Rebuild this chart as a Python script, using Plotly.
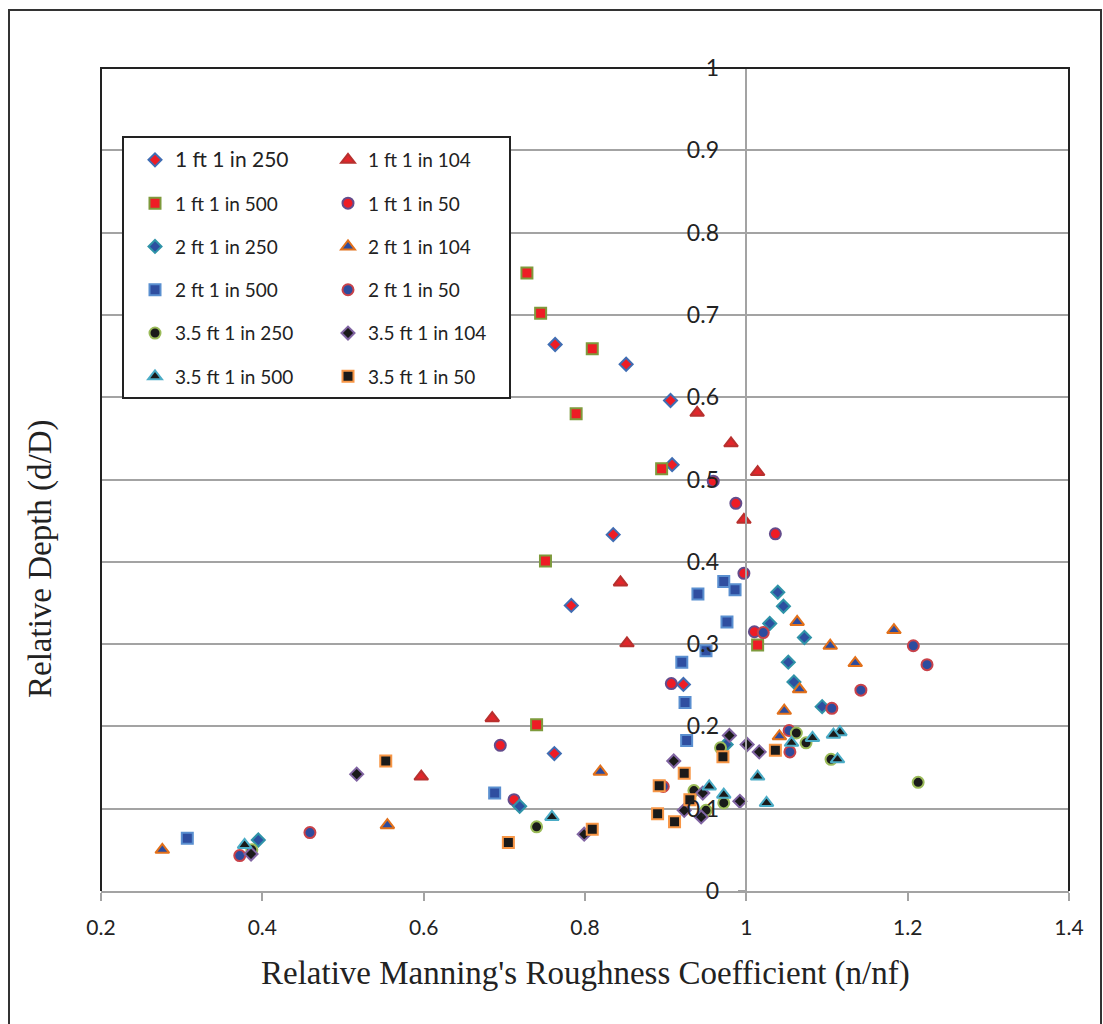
import plotly.graph_objects as go

# Relative Manning's roughness (n/nf) and relative depth (d/D) for each pipe / slope run
ft1_250_n = [0.763, 0.851, 0.906, 0.908, 0.835, 0.783, 0.922, 0.762]
ft1_250_d = [0.664, 0.640, 0.596, 0.518, 0.433, 0.347, 0.251, 0.167]

ft1_104_n = [0.939, 0.981, 1.014, 0.997, 0.844, 0.852, 0.685, 0.597]
ft1_104_d = [0.581, 0.544, 0.509, 0.451, 0.375, 0.301, 0.210, 0.139]

ft1_500_n = [0.728, 0.745, 0.809, 0.789, 0.895, 0.751, 1.014, 0.740]
ft1_500_d = [0.751, 0.702, 0.659, 0.580, 0.513, 0.401, 0.299, 0.202]

ft1_50_n = [0.959, 0.987, 1.036, 0.997, 1.010, 0.907, 0.695, 0.712]
ft1_50_d = [0.498, 0.471, 0.434, 0.386, 0.315, 0.252, 0.177, 0.111]

ft2_250_n = [1.039, 1.046, 1.029, 1.072, 1.052, 1.059, 1.094, 0.975, 0.719, 0.395]
ft2_250_d = [0.363, 0.346, 0.325, 0.308, 0.278, 0.254, 0.224, 0.178, 0.103, 0.062]

ft2_104_n = [1.063, 1.183, 1.104, 1.135, 1.066, 1.047, 1.041, 0.819, 0.555, 0.276]
ft2_104_d = [0.327, 0.317, 0.298, 0.277, 0.245, 0.219, 0.188, 0.145, 0.080, 0.050]

ft2_500_n = [0.972, 0.986, 0.940, 0.976, 0.950, 0.920, 0.924, 0.926, 0.688, 0.307]
ft2_500_d = [0.376, 0.366, 0.361, 0.327, 0.292, 0.278, 0.229, 0.183, 0.119, 0.064]

ft2_50_n = [1.021, 1.207, 1.224, 1.142, 1.106, 1.053, 1.054, 0.897, 0.459, 0.372]
ft2_50_d = [0.314, 0.298, 0.275, 0.244, 0.222, 0.195, 0.169, 0.127, 0.071, 0.043]

ft35_250_n = [1.062, 1.074, 1.105, 1.213, 0.968, 0.935, 0.972, 0.950, 0.740, 0.387]
ft35_250_d = [0.192, 0.180, 0.160, 0.132, 0.174, 0.122, 0.107, 0.098, 0.078, 0.050]

ft35_104_n = [0.979, 1.001, 1.016, 0.910, 0.946, 0.992, 0.923, 0.944, 0.799, 0.517, 0.386]
ft35_104_d = [0.189, 0.178, 0.169, 0.158, 0.119, 0.109, 0.098, 0.090, 0.069, 0.142, 0.045]

ft35_500_n = [1.116, 1.108, 1.082, 1.056, 1.113, 1.014, 1.025, 0.954, 0.972, 0.759, 0.378]
ft35_500_d = [0.193, 0.190, 0.186, 0.180, 0.160, 0.139, 0.107, 0.127, 0.117, 0.090, 0.056]

ft35_50_n = [1.036, 0.971, 0.923, 0.892, 0.930, 0.890, 0.911, 0.809, 0.553, 0.705]
ft35_50_d = [0.171, 0.163, 0.143, 0.128, 0.111, 0.094, 0.084, 0.075, 0.158, 0.059]

# name, x, y, symbol, fill, edge, size, legend column
series = [
    ("1 ft 1 in 250", ft1_250_n, ft1_250_d, "diamond", "#EE1C25", "#3F6DB3", 10, "legend"),
    ("1 ft 1 in 104", ft1_104_n, ft1_104_d, "triangle-up", "#E1262B", "#B8302E", 12, "legend2"),
    ("1 ft 1 in 500", ft1_500_n, ft1_500_d, "square", "#EE1C25", "#7E9A3C", 11, "legend"),
    ("1 ft 1 in 50", ft1_50_n, ft1_50_d, "circle", "#EE1C25", "#644C8C", 11, "legend2"),
    ("2 ft 1 in 250", ft2_250_n, ft2_250_d, "diamond", "#2D50A0", "#2F93A8", 10, "legend"),
    ("2 ft 1 in 104", ft2_104_n, ft2_104_d, "triangle-up", "#2D4C9E", "#E2701A", 12, "legend2"),
    ("2 ft 1 in 500", ft2_500_n, ft2_500_d, "square", "#2F4EA0", "#5A8FD0", 11, "legend"),
    ("2 ft 1 in 50", ft2_50_n, ft2_50_d, "circle", "#2D4C9E", "#C8424A", 11, "legend2"),
    ("3.5 ft 1 in 250", ft35_250_n, ft35_250_d, "circle", "#1A1A1A", "#9BBB59", 11, "legend"),
    ("3.5 ft 1 in 104", ft35_104_n, ft35_104_d, "diamond", "#1A1A1A", "#8064A2", 10, "legend2"),
    ("3.5 ft 1 in 500", ft35_500_n, ft35_500_d, "triangle-up", "#1A1A1A", "#4BACC6", 12, "legend"),
    ("3.5 ft 1 in 50", ft35_50_n, ft35_50_d, "square", "#1A1A1A", "#F79646", 11, "legend2"),
]

W, H = 1103, 1024
ML, MR, MT, MB = 101, 34, 68, 133
PW, PH = W - ML - MR, H - MT - MB


def pxx(px):
    return (px - ML) / PW


def pxy(py):
    return (H - MB - py) / PH


fig = go.Figure()
for i, (name, xs, ys, sym, fill, edge, size, leg) in enumerate(series):
    label = name
    if i == 0:
        label = '<span style="font-size:21px">%s</span>' % name
    fig.add_trace(go.Scatter(
        x=xs, y=ys, mode="markers", name=label,
        legend=leg, legendgroup=name,
        marker=dict(symbol=sym, size=size, color=fill,
                    line=dict(color=edge, width=2)),
    ))

grid = "#A3A3A3"
legend_style = dict(
    xanchor="left", yanchor="top",
    bgcolor="rgba(0,0,0,0)", borderwidth=0,
    font=dict(size=19, family="Lato", color="#222222"),
    tracegroupgap=15.6, traceorder="grouped",
)
fig.update_layout(
    width=W, height=H,
    margin=dict(l=ML, r=MR, t=MT, b=MB),
    paper_bgcolor="white", plot_bgcolor="white",
    font=dict(family="Lato, 'Open Sans', sans-serif", color="#222222"),
    xaxis=dict(
        range=[0.2, 1.4], tick0=0.2, dtick=0.2,
        showgrid=False, zeroline=False,
        showline=True, linecolor=grid, linewidth=2,
        ticks="outside", ticklen=8, tickcolor=grid, tickwidth=1.5,
        tickfont=dict(size=21, color="#222222"),
        ticklabelstandoff=9,
    ),
    yaxis=dict(
        range=[0, 1], tick0=0, dtick=0.1,
        anchor="free", position=(1 - 0.2) / 1.2, side="left",
        showgrid=True, gridcolor=grid, gridwidth=1.5, zeroline=False,
        showline=True, linecolor=grid, linewidth=1.5,
        ticks="outside", ticklen=8, tickcolor=grid, tickwidth=1.5,
        tickfont=dict(size=23, color="#222222"),
        ticklabelstandoff=14,
    ),
    legend=dict(x=pxx(135), y=pxy(141), **legend_style),
    legend2=dict(x=pxx(328), y=pxy(141), **legend_style),
    showlegend=True,
)

shapes = [
    # outer chart frame
    dict(type="path", xref="paper", yref="paper", layer="above",
         path="M %f,%f L %f,%f L %f,%f L %f,%f" % (
             pxx(9), pxy(1040), pxx(9), pxy(10), pxx(1101), pxy(10), pxx(1101), pxy(1040)),
         line=dict(color="#333333", width=2)),
    # plot area frame (left, top, right)
    dict(type="path", xref="paper", yref="paper", layer="above",
         path="M 0,0 L 0,1 L 1,1 L 1,0",
         line=dict(color="#222222", width=2)),
    # legend box
    dict(type="rect", xref="paper", yref="paper", layer="above",
         x0=pxx(123), x1=pxx(510), y0=pxy(398), y1=pxy(137),
         fillcolor="white", line=dict(color="#222222", width=2)),
]
fig.update_layout(shapes=shapes)

fig.add_annotation(
    text="Relative Manning's Roughness Coefficient (n/nf)",
    xref="paper", yref="paper", x=0.5, y=pxy(973),
    xanchor="center", yanchor="middle", showarrow=False,
    font=dict(family="Liberation Serif, serif", size=33, color="#222222"),
)
fig.add_annotation(
    text="Relative Depth (d/D)",
    xref="paper", yref="paper", x=pxx(40), y=pxy(559),
    xanchor="center", yanchor="middle", showarrow=False, textangle=-90,
    font=dict(family="Liberation Serif, serif", size=33, color="#222222"),
)

fig.write_html("out.html")
